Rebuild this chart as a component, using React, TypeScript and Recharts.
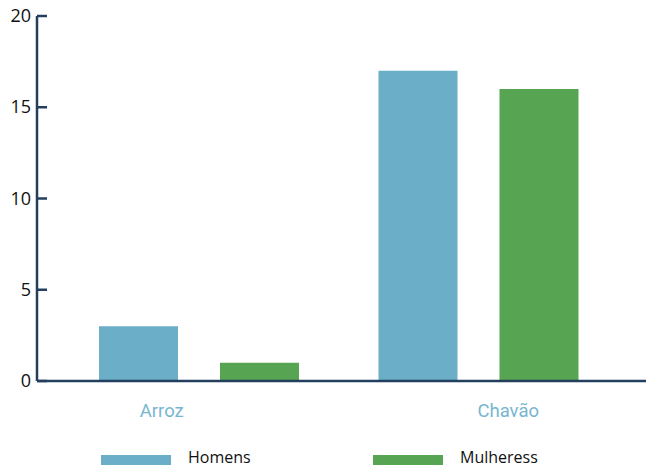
import { Bar, BarChart, Legend, XAxis, YAxis } from "recharts";

const categories = ["Arroz", "Chavão"];
const homens = [3, 17];
const mulheres = [1, 16];
const yTicks = [0, 5, 10, 15, 20];

const data = categories.map((name, i) => ({
  name,
  Homens: homens[i],
  Mulheress: mulheres[i],
}));

const AXIS = "#233f5e";
const BLUE = "#6aaec8";
const GREEN = "#57a452";

// labels in the source sit a bit off the group centres
const labelShift: Record<string, number> = { Arroz: -37, "Chavão": 30 };

const YTick = ({ x, y, payload }: any) => (
  <g>
    <line x1={x} x2={x + 10} y1={y} y2={y} stroke={AXIS} strokeWidth={2.5} />
    <text
      x={x - 6}
      y={y}
      dy={6}
      textAnchor="end"
      fill="#111"
      fontSize={18}
      fontFamily="Open Sans"
    >
      {payload.value}
    </text>
  </g>
);

const XTick = ({ x, y, payload }: any) => (
  <text
    x={x + (labelShift[payload.value] || 0)}
    y={y}
    dy={34}
    textAnchor="middle"
    fill="#78b6cf"
    fontSize={18.5}
    fontFamily="Roboto"
  >
    {payload.value}
  </text>
);

const LegendContent = () => (
  <div
    style={{
      height: 20,
      display: "flex",
      alignItems: "center",
      fontFamily: "Open Sans",
      fontSize: 16,
      color: "#111",
      paddingLeft: 93,
    }}
  >
    {[
      { name: "Homens", color: BLUE },
      { name: "Mulheress", color: GREEN },
    ].map((it) => (
      <div key={it.name} style={{ display: "flex", alignItems: "center", width: 272 }}>
        <span style={{ width: 70, height: 10, background: it.color, marginRight: 17, marginTop: 6 }} />
        <span>{it.name}</span>
      </div>
    ))}
  </div>
);

export default function App() {
  return (
    <BarChart
      width={646}
      height={459}
      data={data}
      margin={{ top: 8, right: 0, left: 0, bottom: 0 }}
      barSize={79}
      barGap={42}
      style={{ overflow: "visible" }}
    >
      <YAxis
        domain={[0, 20]}
        ticks={yTicks}
        width={29}
        tickLine={false}
        tickSize={0}
        tickMargin={0}
        axisLine={{ stroke: AXIS, strokeWidth: 2.5 }}
        tick={<YTick />}
        interval={0}
      />
      <XAxis
        dataKey="name"
        height={66}
        padding={{ left: 22, right: 36 }}
        tickLine={false}
        tickSize={0}
        axisLine={{ stroke: AXIS, strokeWidth: 2.5 }}
        tick={<XTick />}
      />
      <Legend verticalAlign="bottom" content={<LegendContent />} />
      <Bar dataKey="Homens" fill={BLUE} isAnimationActive={false} />
      <Bar dataKey="Mulheress" fill={GREEN} isAnimationActive={false} />
    </BarChart>
  );
}
